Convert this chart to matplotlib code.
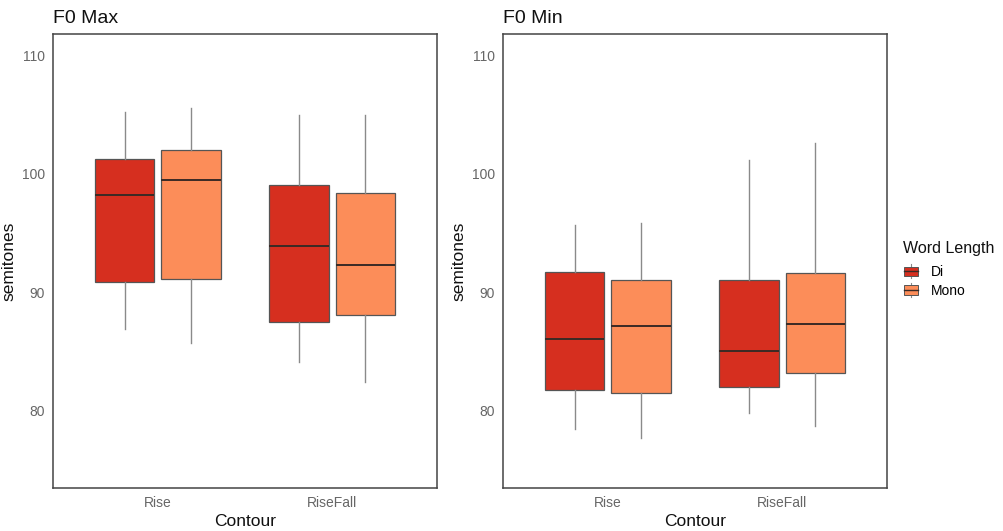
import matplotlib
matplotlib.use("Agg")
import matplotlib.pyplot as plt
from matplotlib.patches import Patch, Rectangle
from matplotlib.lines import Line2D
from matplotlib.legend_handler import HandlerBase

plt.rcParams['font.family'] = ['Liberation Sans', 'DejaVu Sans']

contours = ["Rise", "RiseFall"]
groups = ["Di", "Mono"]
colors = {"Di": "#D62F1F", "Mono": "#FC8D59"}

# five-number summaries per contour: [low whisker, q1, median, q3, high whisker]
f0max_di = [[86.85, 90.9, 98.2, 101.25, 105.2], [84.1, 87.45, 93.9, 99.1, 105.0]]
f0max_mono = [[85.7, 91.15, 99.5, 102.0, 105.6], [82.4, 88.1, 92.3, 98.4, 105.0]]
f0min_di = [[78.4, 81.7, 86.0, 91.7, 95.7], [79.8, 82.0, 85.0, 91.05, 101.2]]
f0min_mono = [[77.7, 81.45, 87.1, 91.05, 95.85], [78.7, 83.2, 87.3, 91.65, 102.65]]

panels = [("F0 Max", f0max_di, f0max_mono), ("F0 Min", f0min_di, f0min_mono)]


# little boxplot glyph for the legend keys, like ggplot draws them
class BoxKey(HandlerBase):
    def create_artists(self, legend, orig, xd, yd, width, height, fontsize, trans):
        fc = orig.get_facecolor()
        x0, y0 = -xd, -yd
        cx = x0 + width / 2
        box = Rectangle((x0, y0 + height * 0.12), width, height * 0.76,
                        facecolor=fc, edgecolor="#555555", linewidth=0.7, transform=trans)
        whisk = Line2D([cx, cx], [y0 - height * 0.05, y0 + height * 1.05],
                       color="#8a8a8a", linewidth=0.8, transform=trans)
        med = Line2D([x0, x0 + width], [y0 + height / 2] * 2,
                     color="#3a2a25", linewidth=1.0, transform=trans)
        return [whisk, box, med]


W, H = 1004, 531
fig = plt.figure(figsize=(W / 100, H / 100), dpi=100)
rects = [[53 / W, (H - 488) / H, 384 / W, 454 / H],
         [503 / W, (H - 488) / H, 384 / W, 454 / H]]

dodge = 0.19
width = 0.34

for rect, (title, di, mono) in zip(rects, panels):
    ax = fig.add_axes(rect)
    for gi, (g, data) in enumerate([("Di", di), ("Mono", mono)]):
        stats = []
        for row in data:
            lo, q1, med, q3, hi = row
            stats.append(dict(whislo=lo, q1=q1, med=med, q3=q3, whishi=hi, fliers=[]))
        pos = [i + 1 + (dodge if gi else -dodge) for i in range(len(contours))]
        ax.bxp(stats, positions=pos, widths=width, showcaps=False, showfliers=False,
               patch_artist=True,
               boxprops=dict(facecolor=colors[g], edgecolor="#555555", linewidth=0.9),
               medianprops=dict(color="#3a2a25", linewidth=1.4),
               whiskerprops=dict(color="#8a8a8a", linewidth=1.0))
    ax.set_xlim(0.4, 2.6)
    ax.set_ylim(73.44, 111.83)
    ax.set_xticks([1, 2])
    ax.set_xticklabels(contours)
    ax.set_yticks([80, 90, 100, 110])
    ax.tick_params(length=0, labelsize=10, colors="#666666")
    ax.tick_params(axis="x", pad=6)
    ax.tick_params(axis="y", pad=6)
    for s in ax.spines.values():
        s.set_color("#444444")
        s.set_linewidth(1.1)
    ax.set_xlabel("Contour", fontsize=12.5, color="#111111", labelpad=3)
    ax.set_ylabel("semitones", fontsize=12.5, color="#111111", labelpad=4)
    ax.set_title(title, loc="left", fontsize=14, color="#111111", pad=8)

# legend: title as its own text so the gap under it matches ggplot
fig.text(903 / W, 1 - 248 / H, "Word Length", fontsize=11.5, color="#111111",
         ha="left", va="center")
handles = [Patch(facecolor=colors[g], edgecolor="#555555", label=g) for g in groups]
fig.legend(handles=handles, loc="upper left",
           bbox_to_anchor=(904 / W, 1 - 265 / H), frameon=False, fontsize=10,
           handlelength=1.0, handleheight=1.0, handletextpad=0.9,
           labelspacing=0.35, borderpad=0, borderaxespad=0,
           handler_map={Patch: BoxKey()})

fig.savefig("out.png", dpi=100)
